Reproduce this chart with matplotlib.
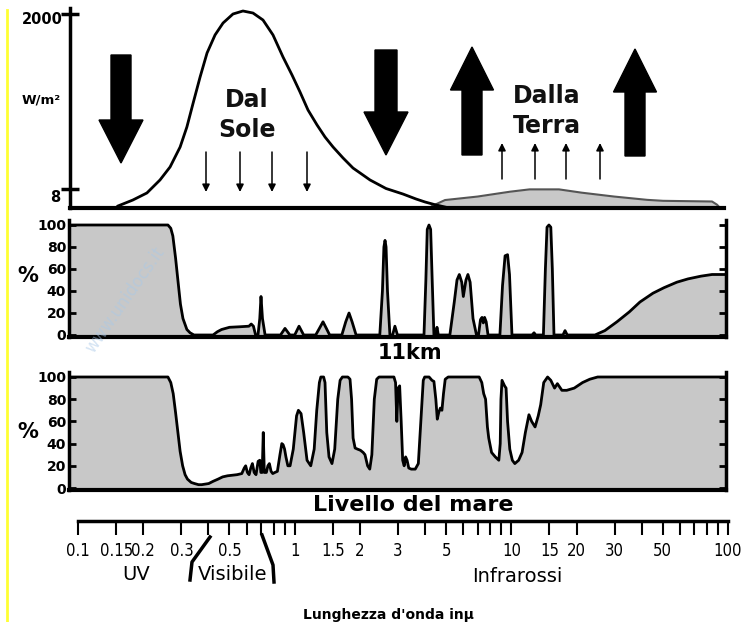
import os
import matplotlib
matplotlib.use('Agg')
import matplotlib.pyplot as plt
import matplotlib.ticker as ticker
from matplotlib import font_manager
from matplotlib.patches import Polygon

W, H = 744, 622
GRAY = '#c8c8c8'

# solar spectrum reaching the top of the atmosphere (wavelength in micron, W/m2 scale of the panel)
sun_wl = [0.153, 0.179, 0.208, 0.239, 0.266, 0.296, 0.318, 0.340, 0.366, 0.394, 0.429, 0.467,
          0.519, 0.577, 0.642, 0.714, 0.794, 0.883, 0.972, 1.058, 1.152, 1.268, 1.38, 1.503,
          1.671, 1.858, 2.066, 2.226, 2.638, 3.16, 3.629, 3.994, 4.44, 4.94]
sun_wm2 = [21, 82, 155, 289, 423, 629, 835, 1083, 1351, 1598, 1784, 1907,
           2000, 2031, 2010, 1938, 1784, 1557, 1371, 1196, 1010, 856, 732, 629,
           516, 412, 340, 289, 201, 144, 93, 62, 34, 10]

# radiation emitted by the earth
earth_wl = [4.3, 4.94, 6.98, 9.85, 12.13, 16.58, 21.1, 29.8, 42.3, 50.1, 84.3, 88.9, 91.8]
earth_wm2 = [20, 82, 118, 168, 192, 192, 158, 118, 84, 74, 67, 34, 0]

# absorption (%) above 11 km
abs11_wl = [0.09, 0.26, 0.268, 0.274, 0.282, 0.289, 0.297, 0.305, 0.318, 0.329, 0.343,
            0.42, 0.44, 0.46, 0.50, 0.56, 0.615, 0.63, 0.645, 0.66,
            0.677, 0.69, 0.699, 0.71, 0.73,
            0.86, 0.902, 0.95, 1.0, 1.047, 1.10,
            1.25, 1.30, 1.351, 1.40, 1.45,
            1.65, 1.72, 1.781, 1.84, 1.92,
            2.47, 2.54, 2.58, 2.611, 2.64, 2.68, 2.75,
            2.83, 2.90, 2.98,
            3.95, 4.03, 4.09, 4.166, 4.24, 4.31, 4.39,
            4.48, 4.535, 4.6,
            5.2, 5.45, 5.61, 5.75, 5.9, 6.0, 6.171, 6.3, 6.45, 6.65, 6.9,
            7.05, 7.2, 7.32, 7.42, 7.52, 7.65, 7.8,
            8.85, 9.1, 9.35, 9.6, 9.8, 10.06,
            12.45, 12.72, 12.95,
            14.05, 14.35, 14.6, 14.9, 15.2, 15.45, 15.72,
            17.3, 17.68, 18.1,
            24.3, 27, 30.7, 35, 39.2, 45, 50.6, 58, 65.3, 75, 84.3, 98]
abs11_pct = [100, 100, 97, 90, 70, 50, 28, 15, 5, 2, 0,
             0, 3, 5, 7, 7.5, 8, 10, 8, 0,
             0, 15, 35, 15, 0,
             0, 6, 0, 0, 8, 0,
             0, 6, 12, 6, 0,
             0, 12, 20, 12, 0,
             0, 40, 80, 86, 80, 40, 0,
             0, 8, 0,
             0, 50, 96, 100, 96, 50, 0,
             0, 7, 0,
             0, 30, 50, 55, 48, 35, 50, 55, 48, 15, 0,
             0, 14, 16, 11, 16, 12, 0,
             0, 45, 72, 73, 55, 0,
             0, 2, 0,
             0, 60, 98, 100, 98, 60, 0,
             0, 4, 0,
             0, 4, 12, 21, 30, 38, 43, 48, 51, 53.5, 55, 55]

# absorption (%) at sea level
abs0_wl = [0.09, 0.26, 0.268, 0.275, 0.282, 0.289, 0.296, 0.304, 0.312, 0.32, 0.333, 0.345,
           0.36, 0.372, 0.386, 0.401, 0.42, 0.443, 0.465, 0.49, 0.515, 0.542, 0.57, 0.585,
           0.594, 0.605, 0.616, 0.627, 0.638, 0.65, 0.663, 0.678, 0.69, 0.698, 0.708, 0.716,
           0.724, 0.74, 0.752, 0.764, 0.778, 0.792, 0.81, 0.832, 0.855, 0.872, 0.884, 0.898,
           0.911, 0.93, 0.952, 0.985, 1.02, 1.04, 1.07, 1.10, 1.14, 1.186, 1.23, 1.264,
           1.30, 1.32, 1.36, 1.38, 1.406, 1.44, 1.486, 1.53, 1.58, 1.62, 1.66, 1.76,
           1.80, 1.83, 1.86, 1.90, 1.95, 2.01, 2.07, 2.11, 2.17, 2.22, 2.27, 2.33,
           2.39, 2.45, 2.87, 2.92, 2.96, 3.0, 3.05, 3.1, 3.15, 3.2, 3.25, 3.3,
           3.36, 3.45, 3.6, 3.72, 3.82, 3.92, 3.98, 4.17, 4.30, 4.39, 4.48, 4.55,
           4.62, 4.7, 4.78, 4.86, 4.95, 5.11, 7.1, 7.3, 7.45, 7.6, 7.75, 7.86,
           8.1, 8.43, 8.75, 8.88, 8.95, 9.05, 9.15, 9.3, 9.45, 9.6, 9.83, 10.1,
           10.37, 10.8, 11.2, 11.6, 12.05, 12.4, 12.86, 13.3, 13.65, 14.1, 14.69, 15.2,
           15.82, 16.3, 17.1, 18.0, 19.5, 21.3, 23, 25.0, 98]
abs0_pct = [100, 100, 95, 85, 68, 50, 33, 20, 12, 8, 5, 4,
            3, 3, 3.5, 4, 6, 8, 10, 11, 11.5, 12, 13, 18,
            20, 14, 12, 18, 22, 14, 12, 24, 25, 14, 14, 50,
            14, 14, 20, 22, 15, 13, 14, 15, 30, 40, 39, 35,
            28, 20, 20, 35, 65, 70, 67, 50, 25, 20, 35, 70,
            95, 100, 100, 95, 50, 28, 22, 35, 80, 97, 100, 100,
            98, 80, 45, 36, 35, 34, 32, 30, 20, 17, 30, 80,
            98, 100, 100, 95, 60, 90, 92, 60, 25, 20, 28, 25,
            18, 17, 17, 22, 60, 97, 100, 100, 97, 96, 80, 62,
            68, 72, 70, 85, 98, 100, 100, 95, 85, 80, 55, 45,
            32, 28, 25, 40, 80, 97, 95, 92, 90, 60, 35, 25,
            22, 25, 32, 50, 66, 60, 55, 65, 75, 95, 100, 97,
            90, 94, 88, 88, 90, 95, 98, 100, 100]

pct_ticks = [0, 20, 40, 60, 80, 100]
scale_ticks = [0.1, 0.15, 0.2, 0.3, 0.4, 0.5, 0.6, 0.7, 0.8, 0.9, 1, 1.5, 2, 3, 4, 5, 6, 7, 8, 9,
               10, 15, 20, 30, 40, 50, 60, 70, 80, 90, 100]
scale_labels = ['0.1', '0.15', '0.2', '0.3', '', '0.5', '', '', '', '', '1', '1.5', '2', '3', '', '5',
                '', '', '', '', '10', '15', '20', '30', '', '50', '', '', '', '', '100']


def find_narrow():
    # a narrow / condensed sans for the wavelength scale, if one is installed
    for name in ['Liberation Sans Narrow', 'DejaVu Sans', 'Noto Sans', 'Open Sans', 'Roboto']:
        for f in font_manager.fontManager.ttflist:
            if f.name != name or f.style != 'normal':
                continue
            if f.weight not in (400, 'normal', 'regular', 'book'):
                continue
            base = os.path.basename(f.fname)
            if ('Narrow' in f.name or f.stretch in ('condensed', 'semi-condensed')
                    or ('Condensed' in base and 'Extra' not in base)):
                return font_manager.FontProperties(fname=f.fname)
    return None


narrow_fp = find_narrow()
if narrow_fp is None:
    narrow_fp = font_manager.FontProperties(family='Liberation Sans')
    TICK_SIZE = 11
else:
    TICK_SIZE = 12

# pixel of 0.1 um and pixels per decade on the wavelength scale
X0, DEC = 78.0, 216.7


def px2um(px):
    return 0.1 * 10 ** ((px - X0) / DEC)


fig = plt.figure(figsize=(W / 100, H / 100), dpi=100)


def add_box(left, top, right, bottom):
    return fig.add_axes([left / W, 1 - bottom / H, (right - left) / W, (bottom - top) / H])


def clean(ax, left, right):
    ax.set_xscale('log')
    ax.set_xlim(px2um(left), px2um(right))
    ax.xaxis.set_major_locator(ticker.NullLocator())
    ax.xaxis.set_minor_locator(ticker.NullLocator())
    ax.spines['top'].set_visible(False)
    ax.patch.set_alpha(0)


## top panel: emission
ax1 = add_box(70, 8, 724, 208)
clean(ax1, 70, 724)
ax1.spines['right'].set_visible(False)
ax1.set_ylim(0, 2000 + 6 * 2000 / 194)
ax1.fill_between(earth_wl, earth_wm2, color=GRAY, lw=0)
ax1.plot(earth_wl, earth_wm2, color='#555555', lw=1.5)
ax1.plot(sun_wl, sun_wm2, color='black', lw=2)
ax1.spines['left'].set_linewidth(2.5)
ax1.spines['bottom'].set_linewidth(3)
ax1.set_yticks([2000, 200])
ax1.set_yticklabels(['', ''])
ax1.tick_params(axis='y', direction='inout', length=13, width=2.5, pad=0)


## absorption panels: box = left, top, right, bottom, pixel of 0 %, pixel of 100 %
def absorption(box, wl, pct):
    left, top, right, bottom, y0, y100 = box
    ax = add_box(left, top, right, bottom)
    clean(ax, left, right)
    ax.fill_between(wl, pct, color=GRAY, lw=0)
    ax.plot(wl, pct, color='black', lw=2)
    ppu = (y0 - y100) / 100
    ax.set_ylim(-(bottom - y0) / ppu, 100 + (y100 - top) / ppu)
    for s in ['left', 'right']:
        ax.spines[s].set_linewidth(2.5)
    ax.spines['bottom'].set_linewidth(3)
    ax.set_yticks(pct_ticks)
    ax.set_yticklabels([str(v) for v in pct_ticks], fontweight='bold', fontsize=10)
    ax.tick_params(axis='y', left=True, right=True, direction='in', length=5, width=2, pad=2)
    return ax


ax2 = absorption((69, 220, 726, 337, 335, 225), abs11_wl, abs11_pct)
ax3 = absorption((69, 372, 726, 490, 488, 377), abs0_wl, abs0_pct)

## wavelength scale
axs = add_box(78, 505, 728, 521)
axs.set_xscale('log')
axs.set_xlim(0.1, 100)
axs.patch.set_alpha(0)
for s in ['top', 'left', 'right']:
    axs.spines[s].set_visible(False)
axs.spines['bottom'].set_linewidth(2.5)
axs.set_yticks([])
axs.xaxis.set_major_locator(ticker.FixedLocator(scale_ticks))
axs.xaxis.set_major_formatter(ticker.FixedFormatter(scale_labels))
axs.xaxis.set_minor_locator(ticker.NullLocator())
axs.tick_params(axis='x', direction='out', length=10, width=1.5, pad=5)
for lbl in axs.get_xticklabels():
    lbl.set_fontproperties(narrow_fp)
    lbl.set_fontsize(TICK_SIZE)

## overlay in pixel coordinates for arrows and labels
ov = fig.add_axes([0, 0, 1, 1], zorder=5)
ov.set_xlim(0, W)
ov.set_ylim(H, 0)
ov.axis('off')


def big_arrow(xc, y_tail, y_tip, shaft=20, head=44, head_len=43):
    s = 1 if y_tip > y_tail else -1
    yb = y_tip - s * head_len
    pts = [(xc - shaft / 2, y_tail), (xc + shaft / 2, y_tail), (xc + shaft / 2, yb),
           (xc + head / 2, yb), (xc, y_tip), (xc - head / 2, yb), (xc - shaft / 2, yb)]
    ov.add_patch(Polygon(pts, closed=True, facecolor='black', edgecolor='black', lw=1))


def small_arrow(x, y_tail, y_tip):
    ov.annotate('', xy=(x, y_tip), xytext=(x, y_tail),
                arrowprops=dict(arrowstyle='-|>', color='black', lw=1.1,
                                mutation_scale=11, shrinkA=0, shrinkB=0))


big_arrow(121, 55, 163)
big_arrow(386, 50, 155, shaft=22)
big_arrow(472, 155, 47, head=43)
big_arrow(635, 156, 49, head=43)
for x in [206, 240, 272, 307]:
    small_arrow(x, 152, 192)
for x in [502, 535, 566, 600]:
    small_arrow(x, 179, 143)

ov.text(247, 107, 'Dal', ha='center', va='baseline', fontsize=17, fontweight='bold', color='#111111')
ov.text(247, 137, 'Sole', ha='center', va='baseline', fontsize=17, fontweight='bold', color='#111111')
ov.text(547, 103, 'Dalla', ha='center', va='baseline', fontsize=17, fontweight='bold', color='#111111')
ov.text(547, 133, 'Terra', ha='center', va='baseline', fontsize=17, fontweight='bold', color='#111111')
ov.text(63, 20, '2000', ha='right', va='center', fontsize=10.5, fontweight='bold')
ov.text(60, 198, '8', ha='right', va='center', fontsize=10.5, fontweight='bold')
ov.text(41, 100, 'W/m²', ha='center', va='center', fontsize=9.5, fontweight='bold')

ov.text(28, 276, '%', ha='center', va='center', fontsize=15, fontweight='bold')
ov.text(28, 432, '%', ha='center', va='center', fontsize=15, fontweight='bold')
ov.text(410, 353, '11km', ha='center', va='center', fontsize=15, fontweight='bold')
ov.text(413, 505, 'Livello del mare', ha='center', va='center', fontsize=16, fontweight='bold')

# UV / visible / infrared brackets
ov.plot([210, 192, 190], [537, 562, 580], color='black', lw=2.5)
ov.plot([262, 273, 274], [535, 565, 582], color='black', lw=2.5)
ov.text(136, 574, 'UV', ha='center', va='center', fontsize=14)
ov.text(233, 574, 'Visibile', ha='center', va='center', fontsize=14)
ov.text(517, 577, 'Infrarossi', ha='center', va='center', fontsize=14)
ov.text(388, 619, "Lunghezza d'onda inµ", ha='center', va='baseline', fontsize=10, fontweight='bold')

# page edge and watermark
ov.plot([7, 7], [10, 622], color='#ffff33', lw=2)
ov.text(125, 300, 'www.unidocs.it', ha='center', va='center', rotation=55,
        fontsize=12, color='#a9c8e8', alpha=0.5)

fig.savefig('out.png', dpi=100)
